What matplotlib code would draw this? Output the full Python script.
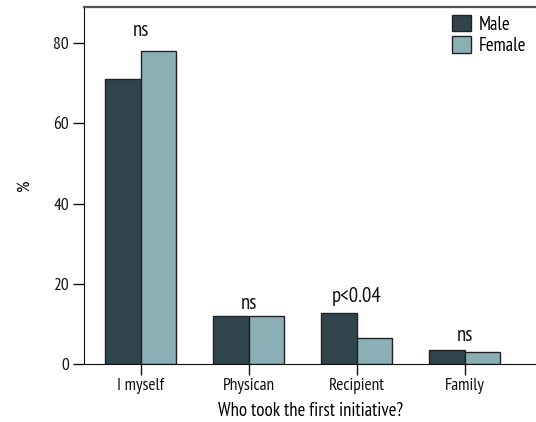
import matplotlib
matplotlib.use("Agg")
import matplotlib.pyplot as plt
import numpy as np

categories = ["I myself", "Physican", "Recipient", "Family"]
male = [71.1, 12.0, 12.8, 3.6]
female = [78.0, 12.0, 6.4, 2.9]
annotations = ["ns", "ns", "p<0.04", "ns"]
annotation_y = [81.8, 13.6, 15.4, 5.8]
series_labels = ["Male", "Female"]
yticks = [0, 20, 40, 60, 80]

plt.rcParams["font.family"] = ["PT Sans Narrow", "DejaVu Sans"]

W, H = 536, 422
fig = plt.figure(figsize=(W / 100, H / 100), dpi=100)
ax = fig.add_axes([84.3 / W, 1 - 364 / H, 1 - 84.3 / W, (364 - 7) / H])

x = np.arange(len(categories))
bw = 0.33
c_male = "#30444b"
c_female = "#8ab0b6"
ax.bar(x - bw / 2, male, bw, color=c_male, edgecolor="#222222", linewidth=1.0, label=series_labels[0], zorder=2)
ax.bar(x + bw / 2, female, bw, color=c_female, edgecolor="#222222", linewidth=1.0, label=series_labels[1], zorder=2)

for xi, yy, t in zip(x, annotation_y, annotations):
    ax.text(xi, yy, t, ha="center", va="baseline", fontsize=15, color="#111111")

ax.set_xlim(-0.522, (W - 140.7) / 108)
ax.set_ylim(0, 89)
ax.set_yticks(yticks)
ax.set_xticks(x)
ax.set_xticklabels(categories)
ax.tick_params(axis="both", direction="out", length=8, width=1.0, labelsize=12.5, colors="#111111")
ax.tick_params(axis="y", pad=3)
ax.tick_params(axis="x", pad=2)

ax.spines["right"].set_visible(False)
ax.spines["top"].set_color("#555555")
ax.spines["top"].set_linewidth(1.6)
ax.spines["left"].set_color("#111111")
ax.spines["bottom"].set_color("#111111")

ax.set_ylabel("%", fontsize=13, labelpad=15)
ax.set_xlabel("Who took the first initiative?", fontsize=13.5, labelpad=6)

leg = ax.legend(loc="upper left", bbox_to_anchor=(452 / W, 1 - 15 / H), bbox_transform=fig.transFigure,
                frameon=False, fontsize=13.5, handlelength=1.0, handleheight=0.95,
                handletextpad=0.45, labelspacing=0.15, borderpad=0, borderaxespad=0)

fig.savefig("out.png", dpi=100)
